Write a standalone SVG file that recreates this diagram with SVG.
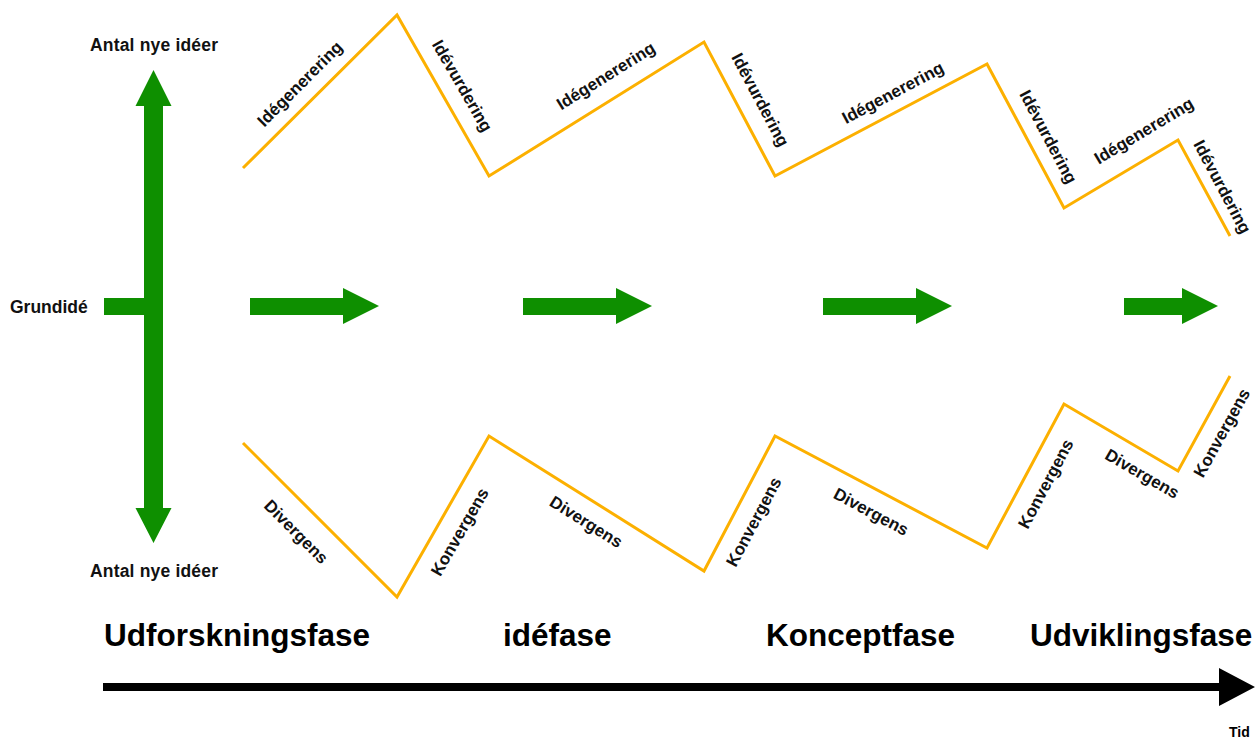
<svg xmlns="http://www.w3.org/2000/svg" width="1258" height="740" viewBox="0 0 1258 740">
<style>
.zig{fill:none;stroke:#fcb000;stroke-width:3;stroke-linejoin:miter}
.g{fill:#0e8f00}
.lbl{font-family:"Liberation Sans",Arial,sans-serif;font-weight:bold;font-size:17px;fill:#111;text-anchor:middle;dominant-baseline:central}
.ax{font-family:"Liberation Sans",Arial,sans-serif;font-weight:bold;font-size:17.5px;fill:#111}
.ph{font-family:"Liberation Sans",Arial,sans-serif;font-weight:bold;font-size:31.5px;fill:#000}
</style>
<rect width="1258" height="740" fill="#fff"/>
<g id="connectors">
<polyline class="zig" points="243,168 397,15 489,176 704,42 775,176 987,64 1064,208 1178,140 1230,236"/>
<polyline class="zig" points="243,443 397,597 489,436 704,571 775,436 987,548 1064,404 1178,471 1230,376"/>
</g>
<g id="axis-vertical">
<polygon class="g" points="144,106 135.5,106 153.5,70 171.5,106 163,106 163,508 171.5,508 153.5,543 135.5,508 144,508"/>
<rect class="g" x="104" y="298" width="41" height="17"/>
<text class="ax" x="90" y="51" textLength="128">Antal nye idéer</text>
<text class="ax" x="90" y="577" textLength="128">Antal nye idéer</text>
<text class="ax" x="10" y="313">Grundidé</text>
</g>
<g id="arrows">
<polygon class="g" points="250,298 343,298 343,288 379,306 343,324 343,315 250,315"/>
<polygon class="g" points="523,298 616,298 616,288 652,306 616,324 616,315 523,315"/>
<polygon class="g" points="823,298 916,298 916,288 952,306 916,324 916,315 823,315"/>
<polygon class="g" points="1124,298 1182,298 1182,288 1218,306 1182,324 1182,315 1124,315"/>
</g>
<g id="top-labels">
<text class="lbl" transform="translate(300,84) rotate(-45)">Idégenerering</text>
<text class="lbl" transform="translate(462,86) rotate(60)">Idévurdering</text>
<text class="lbl" transform="translate(606,76) rotate(-32)">Idégenerering</text>
<text class="lbl" transform="translate(760,100) rotate(62)">Idévurdering</text>
<text class="lbl" transform="translate(893,93) rotate(-28)">Idégenerering</text>
<text class="lbl" transform="translate(1048,137) rotate(62)">Idévurdering</text>
<text class="lbl" transform="translate(1144,131) rotate(-31)">Idégenerering</text>
<text class="lbl" transform="translate(1222,187) rotate(62)">Idévurdering</text>
</g>
<g id="bottom-labels">
<text class="lbl" transform="translate(296,532) rotate(45)">Divergens</text>
<text class="lbl" transform="translate(460,532) rotate(-60)">Konvergens</text>
<text class="lbl" transform="translate(586,522) rotate(32)">Divergens</text>
<text class="lbl" transform="translate(754,522) rotate(-62)">Konvergens</text>
<text class="lbl" transform="translate(871,512) rotate(28)">Divergens</text>
<text class="lbl" transform="translate(1046,484) rotate(-62)">Konvergens</text>
<text class="lbl" transform="translate(1142,474) rotate(30)">Divergens</text>
<text class="lbl" transform="translate(1222,433) rotate(-61)">Konvergens</text>
</g>
<g id="phases">
<text class="ph" x="104" y="646">Udforskningsfase</text>
<text class="ph" x="503" y="646">idéfase</text>
<text class="ph" x="766" y="646">Konceptfase</text>
<text class="ph" x="1030" y="646">Udviklingsfase</text>
</g>
<g id="timeline">
<polygon fill="#000" points="103,683 1219,683 1219,668 1255,687 1219,706 1219,691 103,691"/>
<text x="1229" y="737" style="font-family:'Liberation Sans',Arial,sans-serif;font-weight:bold;font-size:14px;fill:#000">Tid</text>
</g>
</svg>
